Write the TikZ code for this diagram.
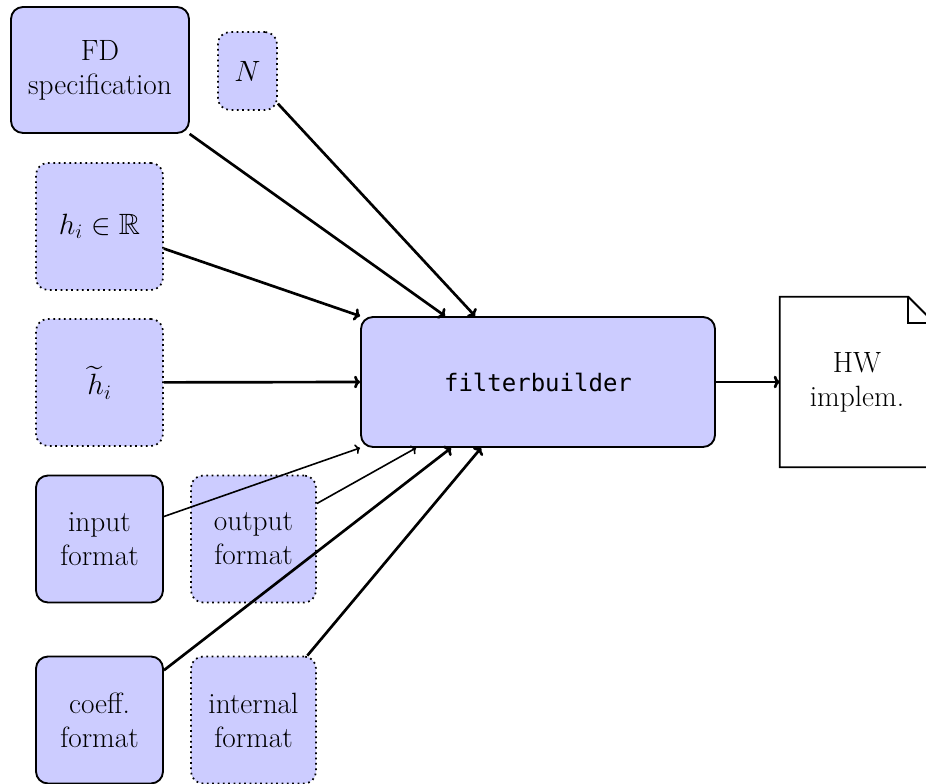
\documentclass[tikz,border=0pt]{standalone}
\usepackage{fix-cm}
\usepackage{amssymb}
\usepackage{fontspec}
\newfontfamily\monofont{DejaVu Sans Mono}
\usetikzlibrary{calc,arrows.meta}
\begin{document}
\begin{tikzpicture}[x=0.75pt,y=-0.75pt,
  box/.style={rounded corners=9pt, fill=blue!20, draw, line width=1.4pt, align=center, inner sep=0pt,
    font=\fontsize{22}{25.5}\selectfont},
  dbox/.style={box, line width=1.3pt, dash pattern=on 1.3pt off 2.7pt},
  sq/.style={minimum width=95.25pt, minimum height=95.25pt},
  ar/.style={-{To[length=4.5pt,width=9.5pt]}, line width=2pt},
  thinar/.style={-{To[length=3.5pt,width=7.5pt]}, line width=1.2pt},
  outline/.style={line width=1.4pt}]
\useasboundingbox (0,0) rectangle (926,784);
\clip (0,0) rectangle (926,784);

\node[box, minimum width=133.5pt, minimum height=94.5pt] (fd) at (100,70) {FD\\specification};
\node[dbox, minimum width=44.25pt, minimum height=58.5pt] (n) at (247.5,71) {$N$};
\node[dbox, sq] (h) at (99.5,226.5) {$h_i \in \mathbb{R}$};
\node[dbox, sq] (ht) at (99.5,382.5) {$\widetilde{h}_i$};
\node[box, sq] (in) at (99.5,539) {input\\format};
\node[dbox, sq, minimum width=93.75pt] (out) at (253.5,539) {output\\format};
\node[box, sq] (coef) at (99.5,720) {coeff.\\format};
\node[dbox, sq, minimum width=93.75pt] (int) at (253.5,720) {internal\\format};

\node[box, minimum width=265.5pt, minimum height=97.5pt, font=\monofont\fontsize{18}{22}\selectfont] (fb) at (538,382) {filterbuilder};

\node[minimum width=115.5pt, minimum height=127.5pt, inner sep=0pt, align=center,
  font=\fontsize{22}{25.5}\selectfont] (hw) at (857,382) {HW\\implem.};
\coordinate (f1) at ($(hw.north east)+(-26,0)$);
\coordinate (f2) at ($(hw.north east)+(0,26)$);
\coordinate (f3) at ($(hw.north east)+(-26,26)$);
\draw[outline] (hw.north west) -- (f1) -- (f2) -- (hw.south east) -- (hw.south west) -- cycle;
\draw[outline] (f1) -- (f3) -- (f2);

\coordinate (tA) at ($(fb.north west)+(85,0)$);
\coordinate (tB) at ($(fb.north west)+(115,0)$);
\coordinate (bA) at ($(fb.south west)+(56,0)$);
\coordinate (bB) at ($(fb.south west)+(91,0)$);
\coordinate (bC) at ($(fb.south west)+(121,0)$);

\draw[ar] (fd) -- (tA);
\draw[ar] (n) -- (tB);
\draw[ar] (h) -- (fb.north west);
\draw[ar] (ht) -- (fb.west);
\draw[thinar] (in) -- (fb.south west);
\draw[thinar] (out) -- (bA);
\draw[ar] (coef) -- (bB);
\draw[ar] (int) -- (bC);
\draw[ar] (fb) -- (hw);
\end{tikzpicture}
\end{document}
